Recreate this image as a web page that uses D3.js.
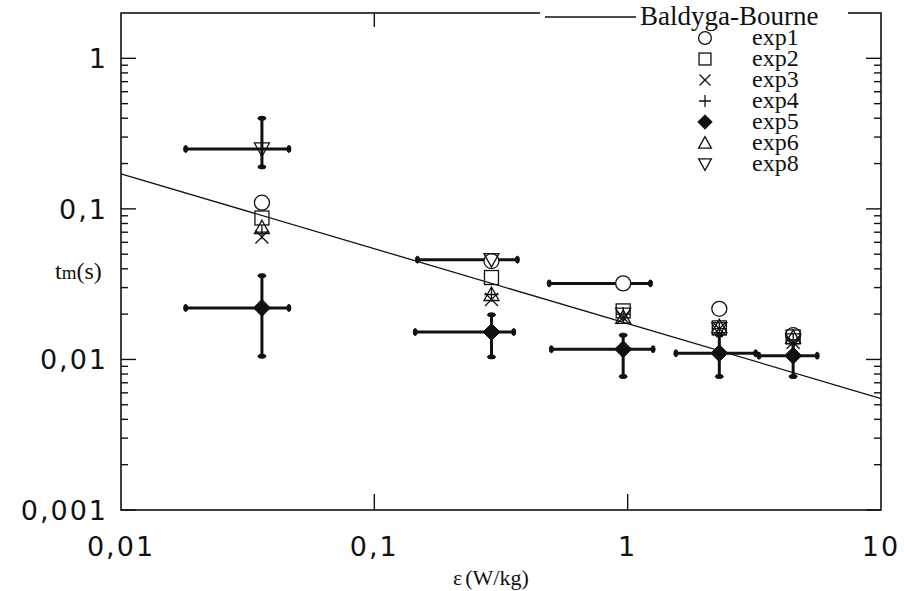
<!DOCTYPE html>
<html>
<head>
<meta charset="utf-8">
<script src="https://cdn.jsdelivr.net/npm/d3@7"></script>
<style>
  html, body { margin: 0; padding: 0; background: #fff; }
  svg { display: block; }
</style>
</head>
<body>
<div id="chart"></div>
<script>
// Mixing time vs energy dissipation, log-log

const X_TICKS = [0.01, 0.1, 1, 10]
const X_LABELS = ['0,01', '0,1', '1', '10']
const Y_TICKS = [0.001, 0.01, 0.1, 1]
const Y_LABELS = ['0,001', '0,01', '0,1', '1']

// energy dissipation of each run group (W/kg)
const EPS = [0.036, 0.29, 0.96, 2.3, 4.5]

// mixing time t_m (s) per experiment, one value per EPS group
const exp1 = [0.11, 0.045, 0.032, 0.0217, 0.0145]
const exp2 = [0.087, 0.035, 0.021, 0.0162, 0.0141]
const exp3 = [0.065, 0.025, 0.019, 0.016, 0.013]
const exp4 = [0.070, 0.027, 0.020, 0.016, 0.0135]
const exp5 = [0.022, 0.0152, 0.0117, 0.0110, 0.0106]
const exp6 = [0.075, 0.027, 0.019, 0.0165, 0.014]
const exp8 = [0.25, 0.046, 0.020, 0.016, 0.0135]

// Baldyga-Bourne model line (two end points)
const MODEL_EPS = [0.01, 10]
const MODEL_T = [0.171, 0.0055]

// error bars: [series, group index, low, high]
const ERR_H = [
  ['exp8', 0, 0.018, 0.046],
  ['exp8', 1, 0.148, 0.367],
  ['exp1', 2, 0.49, 1.23],
  ['exp5', 0, 0.018, 0.046],
  ['exp5', 1, 0.145, 0.355],
  ['exp5', 2, 0.50, 1.26],
  ['exp5', 3, 1.55, 3.2],
  ['exp5', 4, 3.3, 5.6]
]
const ERR_V = [
  ['exp8', 0, 0.19, 0.40],
  ['exp5', 0, 0.0105, 0.036],
  ['exp5', 1, 0.0104, 0.0198],
  ['exp5', 2, 0.0077, 0.0145],
  ['exp5', 3, 0.0077, 0.0145],
  ['exp5', 4, 0.0077, 0.014]
]

const SERIES = [
  { name: 'exp1', values: exp1, shape: 'circle' },
  { name: 'exp2', values: exp2, shape: 'square' },
  { name: 'exp3', values: exp3, shape: 'cross' },
  { name: 'exp4', values: exp4, shape: 'plus' },
  { name: 'exp5', values: exp5, shape: 'diamond' },
  { name: 'exp6', values: exp6, shape: 'triUp' },
  { name: 'exp8', values: exp8, shape: 'triDown' }
]
const byName = Object.fromEntries(SERIES.map(s => [s.name, s]))

const W = 904, H = 591
const L = 121, R = 881, T = 13, B = 510

const svg = d3.select('#chart').append('svg')
  .attr('width', W).attr('height', H)

const x = d3.scaleLog().domain([0.01, 10]).range([L, R])
const y = d3.scaleLog().domain([0.001, 2]).range([B, T])

const ink = '#111'

// symbol drawing
function drawMarker(g, shape, cx, cy, s) {
  const k = s || 1
  if (shape === 'circle') {
    g.append('circle').attr('cx', cx).attr('cy', cy).attr('r', 7.5 * k)
      .attr('fill', '#fff').attr('stroke', ink).attr('stroke-width', 1.3)
  } else if (shape === 'square') {
    g.append('rect').attr('x', cx - 7 * k).attr('y', cy - 7 * k)
      .attr('width', 14 * k).attr('height', 14 * k)
      .attr('fill', 'none').attr('stroke', ink).attr('stroke-width', 1.3)
  } else if (shape === 'cross') {
    const d = 6.5 * k
    g.append('path').attr('d', `M${cx - d},${cy - d}L${cx + d},${cy + d}M${cx - d},${cy + d}L${cx + d},${cy - d}`)
      .attr('stroke', ink).attr('stroke-width', 1.3).attr('fill', 'none')
  } else if (shape === 'plus') {
    const d = 7 * k
    g.append('path').attr('d', `M${cx - d},${cy}L${cx + d},${cy}M${cx},${cy - d}L${cx},${cy + d}`)
      .attr('stroke', ink).attr('stroke-width', 1.3).attr('fill', 'none')
  } else if (shape === 'diamond') {
    const d = 8.5 * k
    g.append('path').attr('d', `M${cx},${cy - d}L${cx + d},${cy}L${cx},${cy + d}L${cx - d},${cy}Z`)
      .attr('fill', ink).attr('stroke', ink).attr('stroke-width', 1)
  } else if (shape === 'triUp') {
    const d = 7.5 * k
    g.append('path').attr('d', `M${cx},${cy - d}L${cx + d},${cy + d * 0.8}L${cx - d},${cy + d * 0.8}Z`)
      .attr('fill', 'none').attr('stroke', ink).attr('stroke-width', 1.3)
  } else if (shape === 'triDown') {
    const d = 7.5 * k
    g.append('path').attr('d', `M${cx},${cy + d}L${cx + d},${cy - d * 0.8}L${cx - d},${cy - d * 0.8}Z`)
      .attr('fill', 'none').attr('stroke', ink).attr('stroke-width', 1.3)
  }
}

// frame
svg.append('rect').attr('x', L).attr('y', T).attr('width', R - L).attr('height', B - T)
  .attr('fill', 'none').attr('stroke', ink).attr('stroke-width', 1.6)

// y ticks (both sides, inward): majors + minors 2..9
const yMinor = []
Y_TICKS.slice(0, 3).forEach(t => { for (let m = 2; m <= 9; m++) yMinor.push(t * m) })
const ticks = svg.append('g').attr('stroke', ink).attr('stroke-width', 1.4)
Y_TICKS.forEach(t => {
  ticks.append('line').attr('x1', L).attr('x2', L + 15).attr('y1', y(t)).attr('y2', y(t))
  ticks.append('line').attr('x1', R).attr('x2', R - 15).attr('y1', y(t)).attr('y2', y(t))
})
yMinor.forEach(t => {
  ticks.append('line').attr('x1', L).attr('x2', L + 7).attr('y1', y(t)).attr('y2', y(t))
  ticks.append('line').attr('x1', R).attr('x2', R - 7).attr('y1', y(t)).attr('y2', y(t))
})
// x ticks: only inner decades
X_TICKS.slice(1, 3).forEach(t => {
  ticks.append('line').attr('x1', x(t)).attr('x2', x(t)).attr('y1', B).attr('y2', B - 16)
  ticks.append('line').attr('x1', x(t)).attr('x2', x(t)).attr('y1', T).attr('y2', T + 14)
})

// tick labels
const tickFont = 'DejaVu Sans, sans-serif'
svg.append('g').selectAll('text').data(Y_TICKS).join('text')
  .attr('x', 108).attr('y', d => y(d) + 10)
  .attr('text-anchor', 'end')
  .style('font-family', tickFont).style('font-size', '27px').style('letter-spacing', '2px')
  .attr('fill', ink)
  .text((d, i) => Y_LABELS[i])
svg.append('g').selectAll('text').data(X_TICKS).join('text')
  .attr('x', d => x(d)).attr('y', 556)
  .attr('text-anchor', 'middle')
  .style('font-family', tickFont).style('font-size', '27px').style('letter-spacing', '2px')
  .attr('fill', ink)
  .text((d, i) => X_LABELS[i])

// axis titles
const serif = 'Liberation Serif, Times New Roman, serif'
const yt = svg.append('text').attr('x', 55).attr('y', 279)
  .style('font-family', serif).style('font-size', '24px').attr('fill', ink)
yt.append('tspan').text('t')
yt.append('tspan').style('font-size', '19px').text('m')
yt.append('tspan').text('(s)')
const xt = svg.append('text').attr('x', 453).attr('y', 585)
  .style('font-family', serif).style('font-size', '22px').attr('fill', ink)
xt.append('tspan').text('ε')
xt.append('tspan').attr('dx', 3).text('(W/kg)')

// model line
svg.append('path')
  .datum(MODEL_EPS.map((e, i) => [e, MODEL_T[i]]))
  .attr('d', d3.line().x(d => x(d[0])).y(d => y(d[1])))
  .attr('fill', 'none').attr('stroke', ink).attr('stroke-width', 1.3)

// error bars
const eb = svg.append('g').attr('stroke', ink).attr('stroke-width', 3).attr('fill', ink)
ERR_H.forEach(([s, i, lo, hi]) => {
  const cy = y(byName[s].values[i])
  eb.append('line').attr('x1', x(lo)).attr('x2', x(hi)).attr('y1', cy).attr('y2', cy)
  ;[lo, hi].forEach(v => eb.append('ellipse').attr('cx', x(v)).attr('cy', cy).attr('rx', 2).attr('ry', 3.5).attr('stroke-width', 1))
})
ERR_V.forEach(([s, i, lo, hi]) => {
  const cx = x(EPS[i])
  eb.append('line').attr('x1', cx).attr('x2', cx).attr('y1', y(lo)).attr('y2', y(hi))
  ;[lo, hi].forEach(v => eb.append('ellipse').attr('cx', cx).attr('cy', y(v)).attr('rx', 4).attr('ry', 2).attr('stroke-width', 1))
})

// markers
const mk = svg.append('g')
SERIES.forEach(s => {
  s.values.forEach((v, i) => drawMarker(mk, s.shape, x(EPS[i]), y(v)))
})

// legend (white box hides the top frame behind it)
const lg = svg.append('g')
lg.append('rect').attr('x', 540).attr('y', 0).attr('width', 308).attr('height', 176).attr('fill', '#fff')
lg.append('line').attr('x1', 545).attr('x2', 636).attr('y1', 17).attr('y2', 17)
  .attr('stroke', ink).attr('stroke-width', 1.3)
lg.append('text').attr('x', 640).attr('y', 25)
  .style('font-family', serif).style('font-size', '27px').attr('fill', ink)
  .text('Baldyga-Bourne')
SERIES.forEach((s, i) => {
  const cy = 38 + i * 21
  drawMarker(lg, s.shape, 705, cy, 0.85)
  lg.append('text').attr('x', 752).attr('y', cy + 7)
    .style('font-family', serif).style('font-size', '24px').attr('fill', ink)
    .text(s.name)
})
</script>
</body>
</html>
